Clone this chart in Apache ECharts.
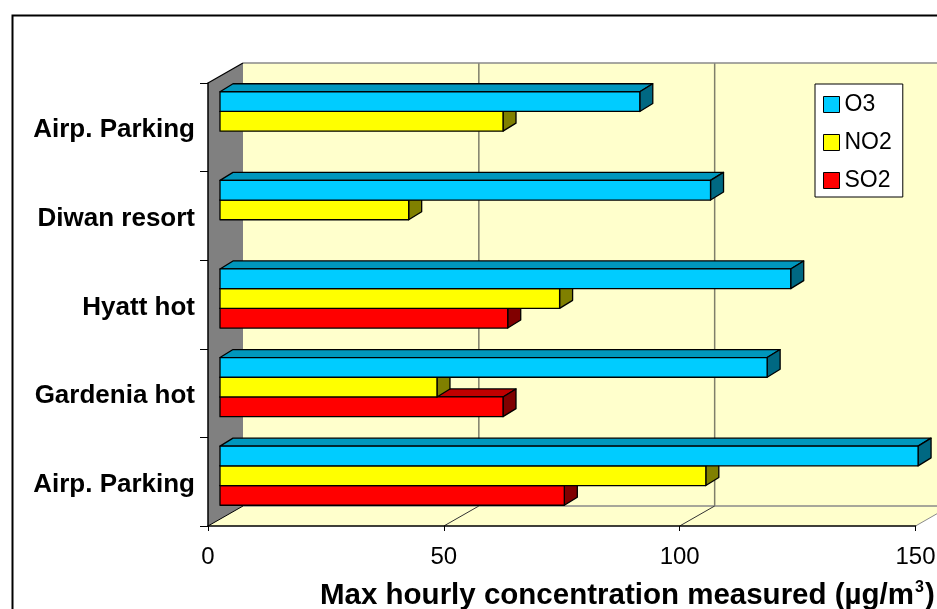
<!DOCTYPE html>
<html>
<head>
<meta charset="utf-8">
<script src="https://cdn.jsdelivr.net/npm/echarts@6/dist/echarts.min.js"></script>
<style>
html,body{margin:0;padding:0;background:#fff;}
#chart{width:937px;height:609px;}
</style>
</head>
<body>
<div id="chart"></div>
<script>
// ---- data (categories listed bottom to top) ----
const categories = ['Airp. Parking', 'Gardenia hot', 'Hyatt hot', 'Diwan resort', 'Airp. Parking'];
const o3Values  = [148, 116, 121, 104, 89];
const no2Values = [103, 46, 72, 40, 60];
const so2Values = [73, 60, 61, null, null];
const xTicks = [0, 50, 100, 150];
const seriesNames = ['O3', 'NO2', 'SO2'];

// ---- styling ----
const FONT = '"Liberation Sans", Arial, sans-serif';
const DEPTH_X = 35, DEPTH_Y = -20;     // full 3D depth of the plot box
const BAR_OX = 12, BAR_OY = -6;        // bar front-face offset
const BAR_DX = 13, BAR_DY = -8;        // bar thickness (depth)
const palette = {
  O3:  {front: '#00CCFF', top: '#0097BD', side: '#006882'},
  NO2: {front: '#FFFF00', top: '#BFBF00', side: '#808000'},
  SO2: {front: '#FF0000', top: '#C00000', side: '#800000'}
};

function toData(values) {
  const out = [];
  values.forEach(function (v, i) { if (v != null) out.push([v, i]); });
  return out;
}

function barRenderer(slot, colors) {
  return function (params, api) {
    const ci = api.value(1);
    const v = api.value(0);
    const p0 = api.coord([0, ci]);
    const p1 = api.coord([v, ci]);
    const band = api.size([0, 1])[1];
    const h = band / 4.5;
    const x0 = p0[0] + BAR_OX;
    const x1 = p1[0] + BAR_OX;
    const y0 = p0[1] + BAR_OY - 1.5 * h + slot * h;
    const y1 = y0 + h;
    const st = {stroke: '#000', lineWidth: 1.3, lineJoin: 'round'};
    return {
      type: 'group',
      children: [
        {type: 'polygon', shape: {points: [[x0, y0], [x0 + BAR_DX, y0 + BAR_DY], [x1 + BAR_DX, y0 + BAR_DY], [x1, y0]]},
          style: Object.assign({fill: colors.top}, st)},
        {type: 'polygon', shape: {points: [[x1, y0], [x1 + BAR_DX, y0 + BAR_DY], [x1 + BAR_DX, y1 + BAR_DY], [x1, y1]]},
          style: Object.assign({fill: colors.side}, st)},
        {type: 'rect', shape: {x: x0, y: y0, width: x1 - x0, height: h},
          style: Object.assign({fill: colors.front}, st)}
      ]
    };
  };
}

function frameRenderer(params, api) {
  const cs = params.coordSys;
  const L = cs.x, R = cs.x + cs.width, T = cs.y, B = cs.y + cs.height;
  const children = [];
  // back wall
  children.push({type: 'rect', shape: {x: L + DEPTH_X, y: T + DEPTH_Y, width: R - L, height: B - T},
    style: {fill: '#FFFFCC', stroke: null}});
  // floor
  children.push({type: 'polygon', shape: {points: [[L, B], [L + DEPTH_X, B + DEPTH_Y], [R + DEPTH_X, B + DEPTH_Y], [R, B]]},
    style: {fill: '#FFFFCC', stroke: null}});
  // left wall
  children.push({type: 'polygon', shape: {points: [[L, T], [L + DEPTH_X, T + DEPTH_Y], [L + DEPTH_X, B + DEPTH_Y], [L, B]]},
    style: {fill: '#808080', stroke: null}});
  // back wall gridlines
  xTicks.forEach(function (t) {
    if (t === 0) return;
    const x = api.coord([t, 0])[0] + DEPTH_X;
    children.push({type: 'line', shape: {x1: x, y1: T + DEPTH_Y, x2: x, y2: B + DEPTH_Y},
      style: {stroke: '#7F7F6A', lineWidth: 1.5}});
  });
  // top edge of back wall & back edge of floor
  children.push({type: 'line', shape: {x1: L + DEPTH_X, y1: T + DEPTH_Y, x2: R + DEPTH_X, y2: T + DEPTH_Y},
    style: {stroke: '#8A8A8A', lineWidth: 1.5}});
  children.push({type: 'line', shape: {x1: L + DEPTH_X, y1: B + DEPTH_Y, x2: R + DEPTH_X, y2: B + DEPTH_Y},
    style: {stroke: '#8A8A8A', lineWidth: 1.5}});
  // floor diagonals at ticks
  xTicks.forEach(function (t) {
    const x = api.coord([t, 0])[0];
    children.push({type: 'line', shape: {x1: x, y1: B, x2: x + DEPTH_X, y2: B + DEPTH_Y},
      style: {stroke: t === 0 ? '#000' : (t === 150 ? '#8A8A8A' : '#333'), lineWidth: 1}});
  });
  // left wall top edge
  children.push({type: 'line', shape: {x1: L, y1: T, x2: L + DEPTH_X, y2: T + DEPTH_Y},
    style: {stroke: '#000', lineWidth: 1.3}});
  return {type: 'group', children: children};
}

const chart = echarts.init(document.getElementById('chart'), null, {renderer: 'canvas'});
chart.setOption({
  animation: false,
  backgroundColor: '#fff',
  grid: {left: 208, top: 83, width: 707.5, height: 443, containLabel: false, outerBoundsMode: 'none'},
  title: {
    text: '{a|Max hourly concentration measured (µg/m}{s|3}{a|)}',
    left: 315, top: 575,
    textStyle: {
      rich: {
        a: {fontFamily: FONT, fontWeight: 'bold', fontSize: 29.5, color: '#000', lineHeight: 32},
        s: {fontFamily: FONT, fontWeight: 'bold', fontSize: 16, color: '#000', lineHeight: 16, verticalAlign: 'top', padding: [0, 1, 0, 1]}
      }
    }
  },
  legend: {
    data: seriesNames,
    orient: 'vertical',
    left: 815, top: 84,
    backgroundColor: '#fff',
    borderColor: '#000', borderWidth: 1, borderRadius: 0,
    padding: [9, 11, 5, 8],
    itemWidth: 16, itemHeight: 16, itemGap: 15, itemTextGap: 6,
    icon: 'rect',
    itemStyle: {borderColor: '#000', borderWidth: 1},
    textStyle: {fontFamily: FONT, fontSize: 23, color: '#000'}
  },
  xAxis: {
    type: 'value', min: 0, max: 150, interval: 50, z: 10,
    axisLine: {show: true, lineStyle: {color: '#000', width: 1.5}},
    axisTick: {show: true, length: 5, lineStyle: {color: '#000', width: 1}},
    axisLabel: {fontFamily: FONT, fontSize: 24, color: '#000', margin: 19},
    splitLine: {show: false}
  },
  yAxis: {
    type: 'category', data: categories, z: 10,
    axisLine: {show: true, lineStyle: {color: '#000', width: 1.5}},
    axisTick: {show: true, length: 8, lineStyle: {color: '#000', width: 1}},
    axisLabel: {
      margin: 13,
      formatter: function (v) { return '{c|' + v + '}'; },
      rich: {c: {fontFamily: FONT, fontSize: 26, fontWeight: 'bold', color: '#000', padding: [6, 0, 0, 0]}}
    },
    splitLine: {show: false}
  },
  series: [
    {name: 'frame', type: 'custom', z: 1, silent: true, renderItem: frameRenderer,
      encode: {x: 0, y: 1}, data: [[0, 0]]},
    {name: 'SO2', type: 'custom', z: 2, itemStyle: {color: palette.SO2.front},
      renderItem: barRenderer(2, palette.SO2), encode: {x: 0, y: 1}, data: toData(so2Values)},
    {name: 'NO2', type: 'custom', z: 3, itemStyle: {color: palette.NO2.front},
      renderItem: barRenderer(1, palette.NO2), encode: {x: 0, y: 1}, data: toData(no2Values)},
    {name: 'O3', type: 'custom', z: 4, itemStyle: {color: palette.O3.front},
      renderItem: barRenderer(0, palette.O3), encode: {x: 0, y: 1}, data: toData(o3Values)}
  ],
  graphic: [
    {type: 'rect', left: 10, top: 13, z: 100, silent: true,
      shape: {x: 0, y: 0, width: 1000, height: 700},
      style: {fill: null, stroke: '#000', lineWidth: 2}}
  ]
});
</script>
</body>
</html>
